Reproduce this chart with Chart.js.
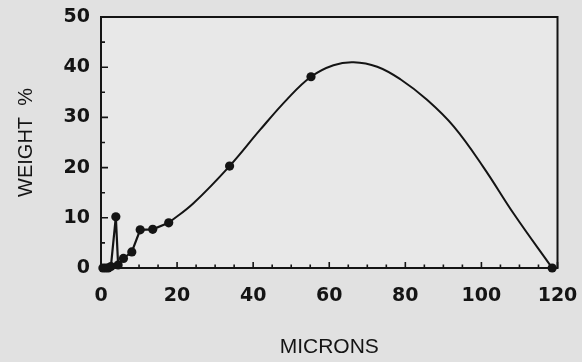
<!DOCTYPE html>
<html><head><meta charset="utf-8">
<script src="https://cdn.jsdelivr.net/npm/chart.js@4"></script>
<style>html,body{margin:0;padding:0;background:#e2e2e2;} canvas{display:block;}</style>
</head><body>
<canvas id="c" width="582" height="362"></canvas>
<script>
// fine-particle measurements (jagged part, straight segments)
const lowX = [0.5, 1.2, 1.9, 2.6, 3.9, 4.5, 5.9, 8.1, 10.3, 13.6, 17.8];
const lowY = [0, 0, 0, 0.3, 10.2, 0.6, 1.9, 3.2, 7.6, 7.7, 9.0];
// smooth fitted curve
const curveX = [17.8, 24.3, 33.8, 41.8, 48.9, 55.2, 61.1, 66.4, 72.6, 78.7, 85.7, 92.7, 100.6, 108.5, 118.6];
const curveY = [9.0, 12.9, 20.3, 27.5, 33.6, 38.1, 40.4, 41.0, 40.1, 37.6, 33.5, 28.2, 20.0, 10.8, 0];
// measured points lying on the curve
const markX = [33.8, 55.2, 118.6];
const markY = [20.3, 38.1, 0];
// axes
const xTicks = [0, 20, 40, 60, 80, 100, 120];
const yTicks = [0, 10, 20, 30, 40, 50];
const xMinor = [5, 10, 15, 25, 30, 35, 45, 50, 55, 65, 70, 75, 85, 90, 95, 105, 110, 115];
const yMinor = [5, 15, 25, 35, 45];

const ink = '#141414';
const pts = (xs, ys) => xs.map((x, i) => ({x: x, y: ys[i]}));

const frame = {
  id: 'frame',
  beforeDraw(chart) {
    const {ctx, chartArea: a} = chart;
    ctx.save();
    ctx.fillStyle = '#e1e1e1';
    ctx.fillRect(0, 0, chart.width, chart.height);
    ctx.fillStyle = '#e8e8e8';
    ctx.fillRect(a.left, a.top, a.right - a.left, a.bottom - a.top);
    ctx.restore();
  },
  afterDraw(chart) {
    const {ctx, chartArea: a, scales} = chart;
    const sx = scales.x, sy = scales.y;
    ctx.save();
    ctx.strokeStyle = ink;
    ctx.lineWidth = 2;
    ctx.strokeRect(a.left, a.top, a.right - a.left, a.bottom - a.top);
    ctx.lineWidth = 1.6;
    ctx.beginPath();
    xTicks.forEach(v => { const p = sx.getPixelForValue(v); ctx.moveTo(p, a.bottom); ctx.lineTo(p, a.bottom - 6); });
    xMinor.forEach(v => { const p = sx.getPixelForValue(v); ctx.moveTo(p, a.bottom); ctx.lineTo(p, a.bottom - 3.5); });
    yTicks.forEach(v => { const p = sy.getPixelForValue(v); ctx.moveTo(a.left, p); ctx.lineTo(a.left + 7, p); });
    yMinor.forEach(v => { const p = sy.getPixelForValue(v); ctx.moveTo(a.left, p); ctx.lineTo(a.left + 4, p); });
    ctx.stroke();
    ctx.restore();
  }
};

new Chart(document.getElementById('c'), {
  type: 'line',
  data: {
    datasets: [
      {data: pts(lowX, lowY), borderColor: ink, borderWidth: 2.2, tension: 0,
       pointRadius: 4.6, pointBackgroundColor: ink, pointBorderColor: ink, pointBorderWidth: 0, clip: false},
      {data: pts(curveX, curveY), borderColor: ink, borderWidth: 2, tension: 0.4,
       pointRadius: 0, clip: false},
      {data: pts(markX, markY), showLine: false, pointRadius: 4.6, pointBackgroundColor: ink,
       pointBorderColor: ink, pointBorderWidth: 0, clip: false}
    ]
  },
  options: {
    responsive: false,
    animation: false,
    events: [],
    layout: {padding: {left: 0, right: 24.5, top: 17, bottom: 0}},
    plugins: {legend: {display: false}, tooltip: {enabled: false}},
    scales: {
      x: {
        type: 'linear', min: 0, max: 120,
        grid: {display: false, drawTicks: false},
        border: {display: false},
        afterBuildTicks: s => { s.ticks = xTicks.map(v => ({value: v})); },
        afterFit: s => { s.height = 94; s.paddingLeft = 0; s.paddingRight = 0; },
        ticks: {color: ink, padding: 17, maxRotation: 0, autoSkip: false,
                font: {family: 'DejaVu Sans', size: 19, weight: 'bold'}},
        title: {display: true, text: 'MICRONS', color: ink, padding: {top: 0, bottom: 2},
                font: {family: 'Liberation Sans', size: 21}}
      },
      y: {
        type: 'linear', min: 0, max: 50,
        grid: {display: false, drawTicks: false},
        border: {display: false},
        afterBuildTicks: s => { s.ticks = yTicks.map(v => ({value: v})); },
        afterFit: s => { s.width = 101; s.paddingTop = 0; s.paddingBottom = 0; },
        ticks: {color: ink, padding: 11, autoSkip: false,
                font: {family: 'DejaVu Sans', size: 19, weight: 'bold'}},
        title: {display: true, text: 'WEIGHT  %', color: ink, padding: {top: 14.5, bottom: 0},
                font: {family: 'Liberation Sans', size: 20}}
      }
    }
  },
  plugins: [frame]
});
</script>
</body></html>
